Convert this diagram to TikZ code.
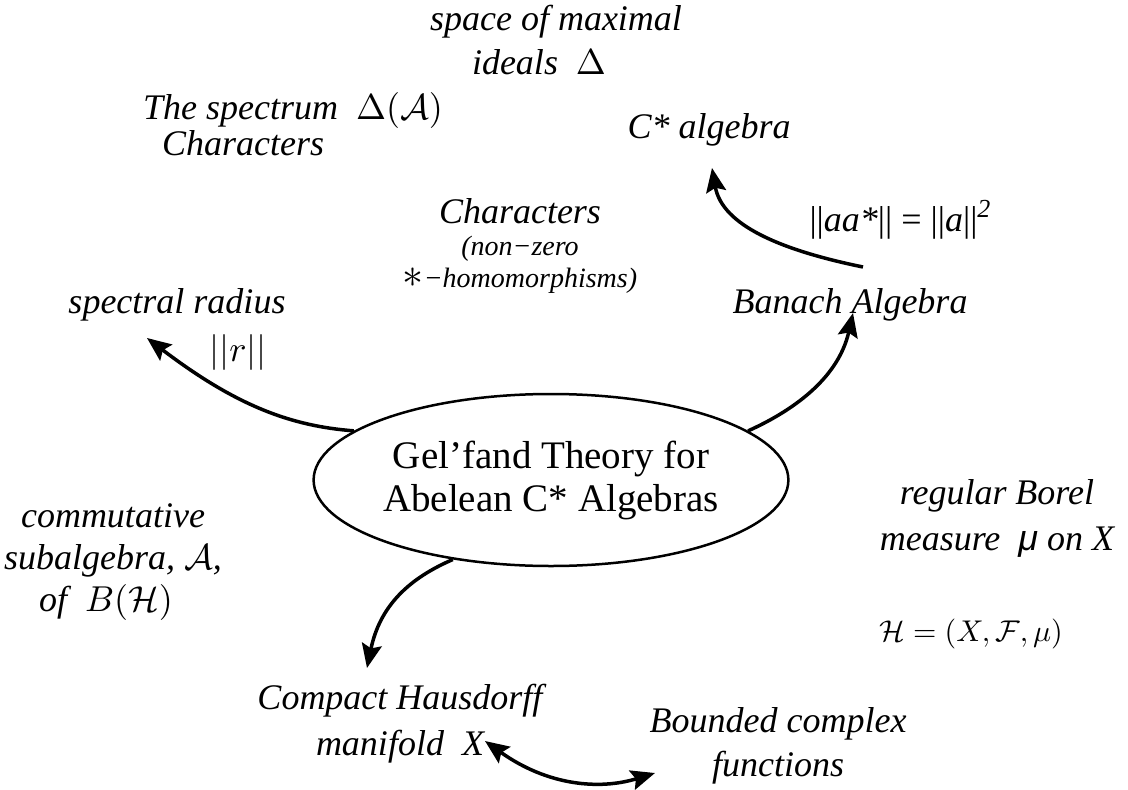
\documentclass[tikz,border=0pt]{standalone}
\usepackage[no-math]{fontspec}
\setmainfont{Liberation Serif}
\newfontfamily\musans{Liberation Sans}
\DeclareFontFamily{OML}{cmm}{\skewchar\font127 }
\DeclareFontShape{OML}{cmm}{m}{it}{<->cmmi10}{}
\DeclareFontFamily{OMS}{cmsy}{\skewchar\font48 }
\DeclareFontShape{OMS}{cmsy}{m}{n}{<->cmsy10}{}
\DeclareFontFamily{OT1}{cmr}{\hyphenchar\font45 }
\DeclareFontShape{OT1}{cmr}{m}{n}{<->cmr10}{}
\DeclareFontFamily{OMX}{cmex}{}
\DeclareFontShape{OMX}{cmex}{m}{n}{<->cmex10}{}
\usetikzlibrary{arrows.meta,shapes.geometric}
\begin{document}
\begin{tikzpicture}[x=1pt,y=-1pt,
  lab/.style={font=\fontsize{36}{44}\selectfont\itshape, align=center, inner sep=0pt},
  conn/.style={line width=3.5pt, -{Stealth[length=24pt,width=20pt,inset=4pt]}},
  dconn/.style={line width=3.5pt, {Stealth[length=24pt,width=20pt,inset=4pt]}-{Stealth[length=24pt,width=20pt,inset=4pt]}},
  hub/.style={draw, line width=2.5pt, ellipse, minimum width=416pt, minimum height=172pt, inner sep=0pt, align=center, font=\fontsize{39}{43}\selectfont}
]
\useasboundingbox (0,0) rectangle (1128,790);

\node[hub] (g) at (551,480) {Gel’fand Theory for\\Abelean C* Algebras};

\node[lab] (max) at (556,40) {space of maximal\\\hspace*{-34pt}ideals \ $\Delta$};
\node[lab, align=left, anchor=west] (spec) at (143,124) {The spectrum \ $\Delta(\mathcal{A})$\\[-8pt]\hspace*{19pt}Characters};
\node[lab] (cst) at (709,130) {C* algebra};
\node[lab] (chr) at (520,246) {Characters\\[-12pt]{\fontsize{28}{30}\selectfont (non−zero}\\[-12pt]{\fontsize{28}{30}\selectfont {\fontsize{42}{30}\selectfont$\ast$}−homomorphisms)}};
\node[lab, font=\fontsize{36}{44}\selectfont] (nrm) at (900,220) {\textbar\textbar\textit{aa*}\textbar\textbar\ = \textbar\textbar\textit{a}\textbar\textbar\raisebox{14pt}{\fontsize{26}{26}\selectfont\textit{2}}};
\node[lab] (sr) at (177,330) {spectral radius\\[4pt]\hspace*{122pt}$||r||$};
\node[lab] (ban) at (850,305) {Banach Algebra};
\node[lab] (com) at (113,562) {commutative\\[-2pt]subalgebra, $\mathcal{A}$,\\[-2pt]\hspace*{-14pt}of \ $B(\mathcal{H})$};
\node[lab] (bor) at (997,518) {regular Borel\\[2pt]measure \ {\musans μ} on X};
\node[lab, font=\fontsize{30}{36}\selectfont] (hil) at (971,634) {$\mathcal{H}=(X,\mathcal{F},\mu)$};
\node[lab] (chm) at (400,724) {Compact Hausdorff\\[2pt]manifold \ X};
\node[lab] (bnd) at (778,746) {Bounded complex\\functions};

\coordinate (tSR) at (147,338);
\coordinate (tBA) at (853,313);
\coordinate (sBA) at (863,267);
\coordinate (tCS) at (712,168);
\coordinate (tCH) at (367,668);
\coordinate (eCH) at (485,741);
\coordinate (eBF) at (655,773);

\draw[conn] (g.166) .. controls (290,426) and (235,405) .. (tSR);
\draw[conn] (g.14) .. controls (790,412) and (838,380) .. (tBA);
\draw[conn] (sBA) .. controls (780,250) and (722,225) .. (tCS);
\draw[conn] (g.219) .. controls (410,578) and (380,605) .. (tCH);
\draw[dconn] (eCH) .. controls (548,786) and (600,790) .. (eBF);
\end{tikzpicture}
\end{document}
